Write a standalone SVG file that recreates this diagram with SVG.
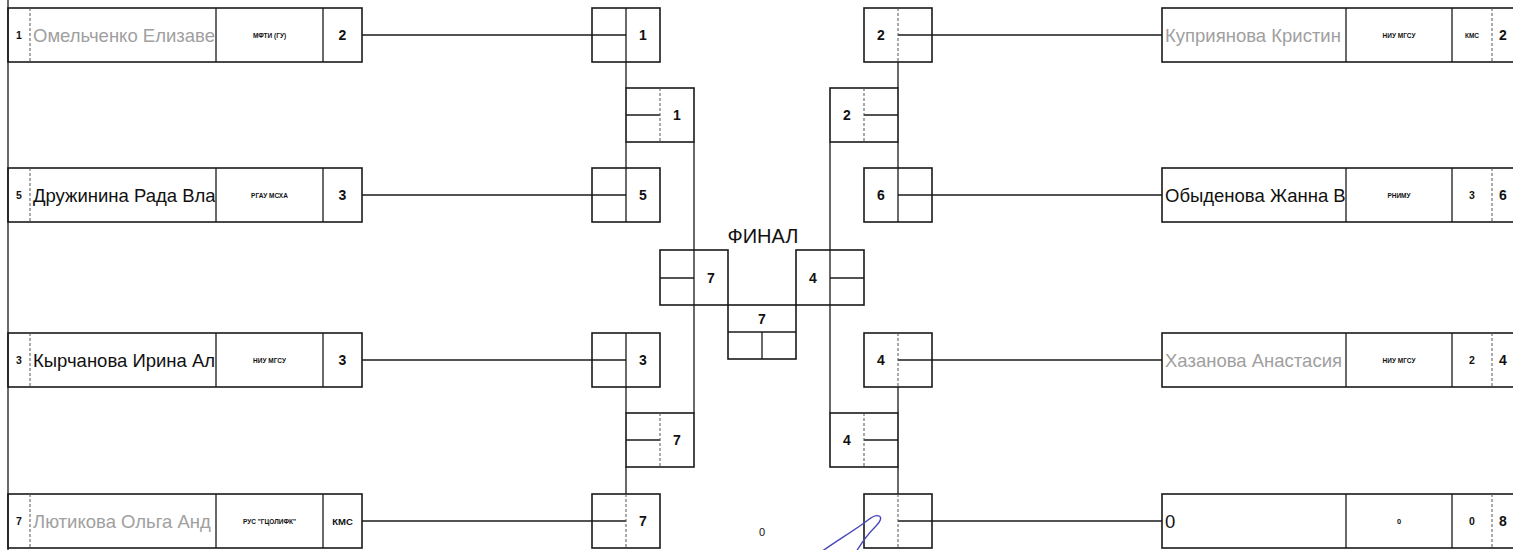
<svg xmlns="http://www.w3.org/2000/svg" width="1513" height="550" viewBox="0 0 1513 550">
<style>
.b{fill:none;stroke:#1a1a1a;stroke-width:1.6}
.l{stroke:#1a1a1a;stroke-width:1.3;fill:none}
.d{stroke:#555;stroke-width:1;stroke-dasharray:3 2;fill:none}
.t{font-family:"Liberation Sans",Arial,sans-serif;fill:#111}
.num{font-size:14px;font-weight:bold;text-anchor:middle;dominant-baseline:central}
.seed{font-size:10.5px;font-weight:bold;text-anchor:middle;dominant-baseline:central}
.nm{font-size:18.5px;dominant-baseline:central}
.gr{fill:#a0a0a0}
.un{font-size:6.5px;text-anchor:middle;dominant-baseline:central;font-weight:bold}
.rk{font-size:9.5px;font-weight:bold;text-anchor:middle;dominant-baseline:central}
.z{font-size:11px;text-anchor:middle;dominant-baseline:central;fill:#111}
</style>
<defs>
<clipPath id="cl"><rect x="31" y="0" width="184" height="550"/></clipPath>
<clipPath id="cr"><rect x="1163" y="0" width="182" height="550"/></clipPath>
</defs>
<rect width="1513" height="550" fill="#fff"/>
<line class="l" x1="8" y1="0" x2="8" y2="550"/>

<g id="connectors">
<line class="l" x1="362" y1="35" x2="626" y2="35"/>
<line class="l" x1="362" y1="195" x2="626" y2="195"/>
<line class="l" x1="362" y1="360" x2="626" y2="360"/>
<line class="l" x1="362" y1="521" x2="626" y2="521"/>
<line class="l" x1="898" y1="35" x2="1162" y2="35"/>
<line class="l" x1="898" y1="195" x2="1162" y2="195"/>
<line class="l" x1="898" y1="360" x2="1162" y2="360"/>
<line class="l" x1="898" y1="521" x2="1162" y2="521"/>
<line class="l" x1="626" y1="62" x2="626" y2="88"/>
<line class="l" x1="626" y1="142" x2="626" y2="168"/>
<line class="l" x1="626" y1="387" x2="626" y2="413"/>
<line class="l" x1="626" y1="467" x2="626" y2="494"/>
<line class="l" x1="694" y1="142" x2="694" y2="413"/>
<line class="l" x1="898" y1="62" x2="898" y2="88"/>
<line class="l" x1="898" y1="142" x2="898" y2="168"/>
<line class="l" x1="898" y1="387" x2="898" y2="413"/>
<line class="l" x1="898" y1="467" x2="898" y2="494"/>
<line class="l" x1="830" y1="142" x2="830" y2="413"/>
<line class="l" x1="626" y1="115" x2="660" y2="115"/>
<line class="l" x1="626" y1="440" x2="660" y2="440"/>
<line class="l" x1="864" y1="115" x2="898" y2="115"/>
<line class="l" x1="864" y1="440" x2="898" y2="440"/>
<line class="l" x1="660" y1="278" x2="694" y2="278"/>
<line class="l" x1="830" y1="278" x2="864" y2="278"/>
</g>

<g id="entry-l1">
<rect class="b" x="8" y="8" width="354" height="54"/>
<line class="d" x1="30" y1="8" x2="30" y2="62"/>
<line class="l" x1="216" y1="8" x2="216" y2="62"/>
<line class="l" x1="323" y1="8" x2="323" y2="62"/>
<text class="t seed" x="19" y="35">1</text>
<text class="t nm gr" x="33" y="35" clip-path="url(#cl)">Омельченко Елизаве</text>
<text class="t un" x="269.5" y="35">МФТИ (ГУ)</text>
<text class="t num" x="342.5" y="35">2</text>
</g>
<g id="entry-l2">
<rect class="b" x="8" y="168" width="354" height="54"/>
<line class="d" x1="30" y1="168" x2="30" y2="222"/>
<line class="l" x1="216" y1="168" x2="216" y2="222"/>
<line class="l" x1="323" y1="168" x2="323" y2="222"/>
<text class="t seed" x="19" y="195">5</text>
<text class="t nm" x="33" y="195" clip-path="url(#cl)">Дружинина Рада Вла</text>
<text class="t un" x="269.5" y="195">РГАУ МСХА</text>
<text class="t num" x="342.5" y="195">3</text>
</g>
<g id="entry-l3">
<rect class="b" x="8" y="333" width="354" height="54"/>
<line class="d" x1="30" y1="333" x2="30" y2="387"/>
<line class="l" x1="216" y1="333" x2="216" y2="387"/>
<line class="l" x1="323" y1="333" x2="323" y2="387"/>
<text class="t seed" x="19" y="360">3</text>
<text class="t nm" x="33" y="360" clip-path="url(#cl)">Кырчанова Ирина Ал</text>
<text class="t un" x="269.5" y="360">НИУ МГСУ</text>
<text class="t num" x="342.5" y="360">3</text>
</g>
<g id="entry-l4">
<rect class="b" x="8" y="494" width="354" height="54"/>
<line class="d" x1="30" y1="494" x2="30" y2="548"/>
<line class="l" x1="216" y1="494" x2="216" y2="548"/>
<line class="l" x1="323" y1="494" x2="323" y2="548"/>
<text class="t seed" x="19" y="521">7</text>
<text class="t nm gr" x="33" y="521" clip-path="url(#cl)">Лютикова Ольга Анд</text>
<text class="t un" x="269.5" y="521">РУС "ГЦОЛИФК"</text>
<text class="t rk" x="342.5" y="521">КМС</text>
</g>

<g id="entry-r1">
<rect class="b" x="1162" y="8" width="360" height="54"/>
<line class="l" x1="1346" y1="8" x2="1346" y2="62"/>
<line class="l" x1="1452" y1="8" x2="1452" y2="62"/>
<line class="d" x1="1492" y1="8" x2="1492" y2="62"/>
<text class="t nm gr" x="1165" y="35" clip-path="url(#cr)">Куприянова Кристин</text>
<text class="t un" x="1399" y="35">НИУ МГСУ</text>
<text class="t un" x="1472" y="35">КМС</text>
<text class="t num" x="1503" y="35">2</text>
</g>
<g id="entry-r2">
<rect class="b" x="1162" y="168" width="360" height="54"/>
<line class="l" x1="1346" y1="168" x2="1346" y2="222"/>
<line class="l" x1="1452" y1="168" x2="1452" y2="222"/>
<line class="d" x1="1492" y1="168" x2="1492" y2="222"/>
<text class="t nm" x="1165" y="195" clip-path="url(#cr)">Обыденова Жанна Ва</text>
<text class="t un" x="1399" y="195">РНИМУ</text>
<text class="t seed" x="1472" y="195">3</text>
<text class="t num" x="1503" y="195">6</text>
</g>
<g id="entry-r3">
<rect class="b" x="1162" y="333" width="360" height="54"/>
<line class="l" x1="1346" y1="333" x2="1346" y2="387"/>
<line class="l" x1="1452" y1="333" x2="1452" y2="387"/>
<line class="d" x1="1492" y1="333" x2="1492" y2="387"/>
<text class="t nm gr" x="1165" y="360" clip-path="url(#cr)">Хазанова Анастасия К</text>
<text class="t un" x="1399" y="360">НИУ МГСУ</text>
<text class="t seed" x="1472" y="360">2</text>
<text class="t num" x="1503" y="360">4</text>
</g>
<g id="entry-r4">
<rect class="b" x="1162" y="494" width="360" height="54"/>
<line class="l" x1="1346" y1="494" x2="1346" y2="548"/>
<line class="l" x1="1452" y1="494" x2="1452" y2="548"/>
<line class="d" x1="1492" y1="494" x2="1492" y2="548"/>
<text class="t nm" x="1165" y="521">0</text>
<text class="t seed" style="font-size:7.5px" x="1399" y="521">0</text>
<text class="t seed" x="1472" y="521">0</text>
<text class="t num" x="1503" y="521">8</text>
</g>

<g id="l-r1-1"><rect class="b" x="592" y="8" width="68" height="54"/><line class="l" x1="626" y1="8" x2="626" y2="62"/><text class="t num" x="643" y="35">1</text></g>
<g id="l-r1-2"><rect class="b" x="592" y="168" width="68" height="54"/><line class="l" x1="626" y1="168" x2="626" y2="222"/><text class="t num" x="643" y="195">5</text></g>
<g id="l-r1-3"><rect class="b" x="592" y="333" width="68" height="54"/><line class="l" x1="626" y1="333" x2="626" y2="387"/><text class="t num" x="643" y="360">3</text></g>
<g id="l-r1-4"><rect class="b" x="592" y="494" width="68" height="54"/><line class="d" x1="626" y1="494" x2="626" y2="548"/><text class="t num" x="643" y="521">7</text></g>

<g id="l-r2-1"><rect class="b" x="626" y="88" width="68" height="54"/><line class="d" x1="660" y1="88" x2="660" y2="142"/><text class="t num" x="677" y="115">1</text></g>
<g id="l-r2-2"><rect class="b" x="626" y="413" width="68" height="54"/><line class="d" x1="660" y1="413" x2="660" y2="467"/><text class="t num" x="677" y="440">7</text></g>

<g id="r-r1-1"><rect class="b" x="864" y="8" width="68" height="54"/><line class="d" x1="898" y1="8" x2="898" y2="62"/><text class="t num" x="881" y="35">2</text></g>
<g id="r-r1-2"><rect class="b" x="864" y="168" width="68" height="54"/><line class="l" x1="898" y1="168" x2="898" y2="222"/><text class="t num" x="881" y="195">6</text></g>
<g id="r-r1-3"><rect class="b" x="864" y="333" width="68" height="54"/><line class="d" x1="898" y1="333" x2="898" y2="387"/><text class="t num" x="881" y="360">4</text></g>
<g id="r-r1-4"><rect class="b" x="864" y="494" width="68" height="54"/><line class="d" x1="898" y1="494" x2="898" y2="548"/></g>

<g id="r-r2-1"><rect class="b" x="830" y="88" width="68" height="54"/><line class="d" x1="864" y1="88" x2="864" y2="142"/><text class="t num" x="847" y="115">2</text></g>
<g id="r-r2-2"><rect class="b" x="830" y="413" width="68" height="54"/><line class="d" x1="864" y1="413" x2="864" y2="467"/><text class="t num" x="847" y="440">4</text></g>

<g id="final">
<text class="t" x="763" y="243" text-anchor="middle" style="font-size:20px">ФИНАЛ</text>
<rect class="b" x="660" y="250" width="68" height="55"/>
<text class="t num" x="711" y="278">7</text>
<rect class="b" x="796" y="250" width="68" height="55"/>
<text class="t num" x="813" y="278">4</text>
<rect class="b" x="728" y="305" width="68" height="54"/>
<line class="l" x1="728" y1="332" x2="796" y2="332"/>
<line class="l" x1="762" y1="332" x2="762" y2="359"/>
<text class="t num" x="762" y="319">7</text>
</g>

<text class="t z" x="762" y="532">0</text>
<path d="M821 552 C838 540 858 528 868 520 C878 512 886 516 876 526 C868 534 862 542 856 552" fill="none" stroke="#4848b8" stroke-width="1.4"/>
</svg>
